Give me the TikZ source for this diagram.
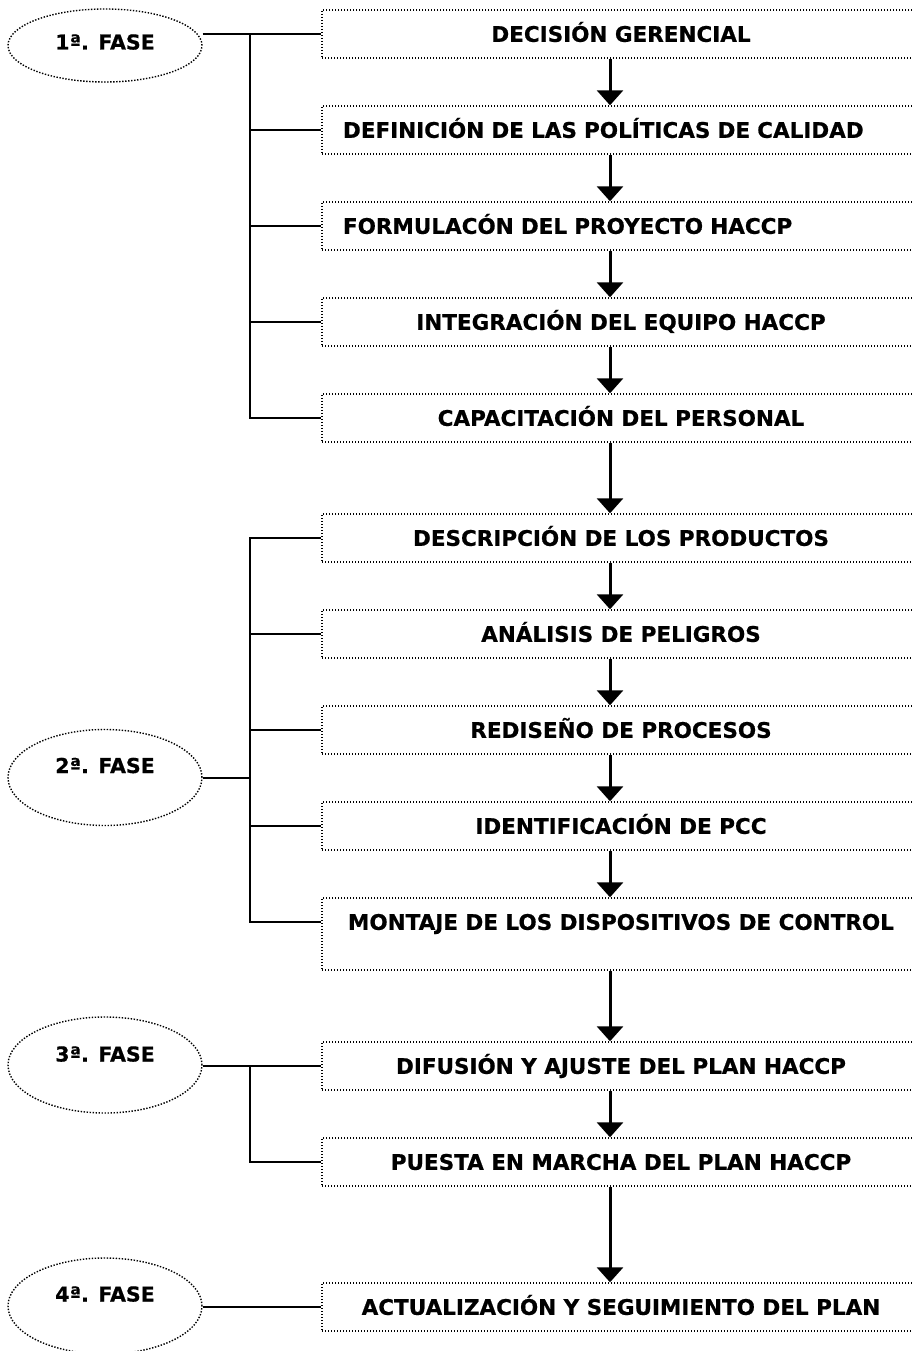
\documentclass[tikz,border=0pt]{standalone}
\usepackage{fontspec}
\setmainfont{DejaVu Sans}[BoldFeatures={FakeBold=0.6}]
\usepackage{tikz}
\usetikzlibrary{arrows.meta,shapes.geometric}

\begin{document}
\begin{tikzpicture}[x=1pt, y=-1pt,
  box/.style={draw, line width=1.4pt, dash pattern=on 1.4pt off 1.6pt, minimum width=598pt, minimum height=48pt, inner sep=0pt,
    font=\bfseries\fontsize{21.5}{26}\selectfont, text height=15.7pt, text depth=0pt},
  boxleft/.style={box, text width=556pt, inner xsep=21pt, align=left},
  fase/.style={draw, ellipse, line width=1.4pt, dash pattern=on 1.4pt off 1.6pt, minimum width=194pt, minimum height=96pt, inner sep=0pt,
    font=\bfseries\fontsize{20.5}{24}\selectfont, text height=15pt, text depth=24pt},
  link/.style={line width=2pt},
  arr/.style={line width=3pt, -{Triangle[width=26pt,length=15pt]}}]
\useasboundingbox (0,0) rectangle (911,1351);
\coordinate (t) at (249.5,0);
\coordinate (ax) at (610,0);
\node[fase, minimum height=73pt, text depth=7pt] (e1) at (105,45.5) {1ª. FASE};
\node[fase] (e2) at (105,777.5) {2ª. FASE};
\node[fase, text depth=22pt] (e3) at (105,1065) {3ª. FASE};
\node[fase] (e4) at (105,1306) {4ª. FASE};
\node[box] (b1) at (621,34) {DECISIÓN GERENCIAL};
\node[boxleft] (b2) at (621,130) {DEFINICIÓN DE LAS POLÍTICAS DE CALIDAD};
\node[boxleft] (b3) at (621,226) {FORMULACÓN DEL PROYECTO HACCP};
\node[box, xshift=-11pt] (b4) at (632,322) {INTEGRACIÓN DEL EQUIPO HACCP};
\node[box] (b5) at (621,418) {CAPACITACIÓN DEL PERSONAL};
\node[box] (b6) at (621,538) {DESCRIPCIÓN DE LOS PRODUCTOS};
\node[box] (b7) at (621,634) {ANÁLISIS DE PELIGROS};
\node[box] (b8) at (621,730) {REDISEÑO DE PROCESOS};
\node[box] (b9) at (621,826) {IDENTIFICACIÓN DE PCC};
\node[box, minimum height=72pt, text depth=24pt] (b10) at (621,934) {MONTAJE DE LOS DISPOSITIVOS DE CONTROL};
\node[box] (b11) at (621,1066) {DIFUSIÓN Y AJUSTE DEL PLAN HACCP};
\node[box] (b12) at (621,1162) {PUESTA EN MARCHA DEL PLAN HACCP};
\node[box] (b13) at (621,1307) {ACTUALIZACIÓN Y SEGUIMIENTO DEL PLAN};
% 1a fase
\draw[link] (b1.west -| e1.east) -- (b1.west);
\draw[link] (b1.west -| t) -- (b5.west -| t) -- (b5.west);
\foreach \i in {2,3,4}
  \draw[link] (b\i.west -| t) -- (b\i.west);
% 2a fase
\draw[link] (e2.east) -- (e2.east -| t);
\draw[link] (b6.west) -- (b6.west -| t) -- ([yshift=12pt]b10.west -| t) -- ([yshift=12pt]b10.west);
\foreach \i in {7,8,9}
  \draw[link] (b\i.west -| t) -- (b\i.west);
% 3a y 4a fase
\draw[link] (b11.west -| e3.east) -- (b11.west);
\draw[link] (b11.west -| t) |- (b12.west);
\draw[link] (b13.west -| e4.east) -- (b13.west);
% flechas
\foreach \i/\j in {1/2,2/3,3/4,4/5,5/6,6/7,7/8,8/9,9/10,10/11,11/12,12/13}
  \draw[arr] (b\i.south -| ax) -- (b\j.north -| ax);
\end{tikzpicture}
\end{document}
